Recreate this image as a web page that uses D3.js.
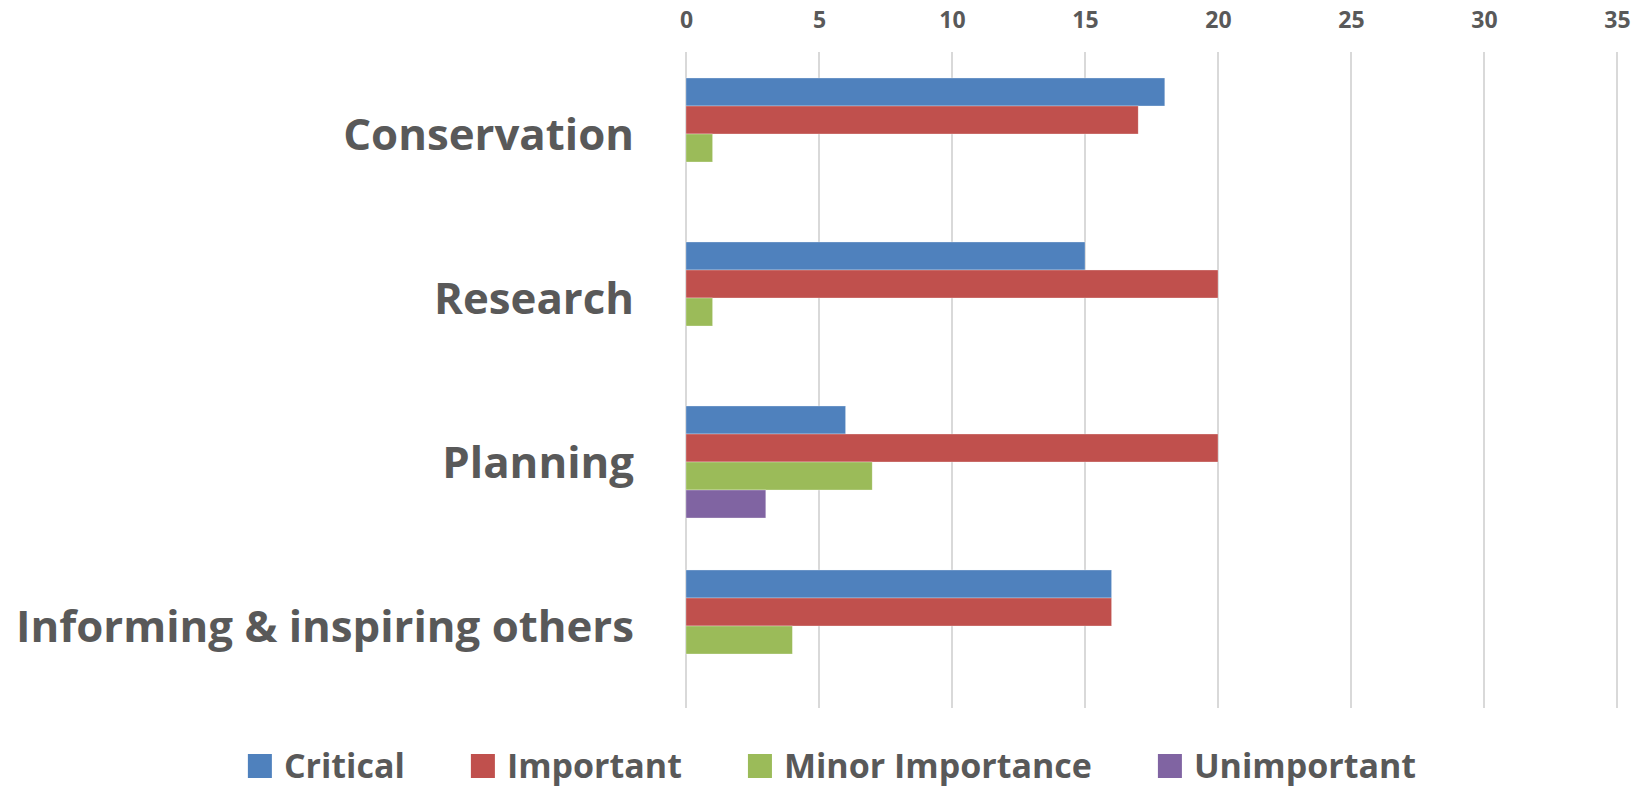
<!DOCTYPE html>
<html>
<head>
<meta charset="utf-8">
<script src="https://cdn.jsdelivr.net/npm/d3@7"></script>
<style>
  body { margin: 0; background: #fff; }
  text { font-family: "Open Sans", "Noto Sans", sans-serif; font-weight: bold; fill: #595959; }
</style>
</head>
<body>
<script>
const categories = ['Conservation', 'Research', 'Planning', 'Informing & inspiring others']
const seriesNames = ['Critical', 'Important', 'Minor Importance', 'Unimportant']
const seriesColors = ['#4f81bd', '#c0504d', '#9bbb59', '#8064a2']
const critical = [18, 15, 6, 16]
const important = [17, 20, 20, 16]
const minor = [1, 1, 7, 4]
const unimportant = [0, 0, 3, 0]
const xTicks = [0, 5, 10, 15, 20, 25, 30, 35]

const W = 1636, H = 788
const values = [critical, important, minor, unimportant]

const svg = d3.select('body')
  .append('svg')
  .attr('width', W)
  .attr('height', H)

const x = d3.scaleLinear()
  .domain([0, 35])
  .range([686, 1617])

const y = d3.scaleBand()
  .domain(categories)
  .range([52, 708])
  .paddingInner(0.317)
  .paddingOuter(0.1585)

const ySub = d3.scaleBand()
  .domain(d3.range(seriesNames.length))
  .range([0, y.bandwidth()])

// gridlines
svg.append('g')
  .selectAll('line')
  .data(xTicks)
  .enter()
  .append('line')
  .attr('x1', d => x(d))
  .attr('x2', d => x(d))
  .attr('y1', 52)
  .attr('y2', 708)
  .attr('stroke', '#d9d9d9')
  .attr('stroke-width', 2)

// top axis labels
const axis = svg.append('g')
  .attr('transform', 'translate(0, 28)')
  .call(d3.axisTop(x).tickValues(xTicks).tickSize(0).tickPadding(0))
axis.select('.domain').remove()
axis.selectAll('text')
  .attr('font-size', 23)
  .attr('fill', '#595959')
  .style('font-family', '"Open Sans", sans-serif')
  .style('font-weight', 'bold')

// bars
const groups = svg.append('g')
  .selectAll('g.cat')
  .data(categories)
  .enter()
  .append('g')
  .attr('class', 'cat')
  .attr('transform', c => `translate(0, ${y(c)})`)

groups.selectAll('rect')
  .data((c, i) => values.map((s, k) => ({k, v: s[i]})).filter(d => d.v > 0))
  .enter()
  .append('rect')
  .attr('x', x(0))
  .attr('y', d => ySub(d.k))
  .attr('width', d => x(d.v) - x(0))
  .attr('height', ySub.bandwidth())
  .attr('fill', d => seriesColors[d.k])
  .attr('stroke', '#ffffff')
  .attr('stroke-opacity', 0.5)
  .attr('stroke-width', 0.6)

// category labels
const labels = svg.append('g')
  .selectAll('text')
  .data(categories)
  .enter()
  .append('text')
  .attr('x', 634)
  .attr('y', c => y(c) + y.bandwidth() / 2)
  .attr('dy', '0.36em')
  .attr('text-anchor', 'end')
  .attr('font-size', 45)
  .text(c => c)

let widest = d3.max(labels.nodes(), n => n.getComputedTextLength())
if (widest > 618) labels.attr('font-size', 45 * 618 / widest)

// legend
const legend = svg.append('g')
const items = legend.selectAll('g')
  .data(seriesNames)
  .enter()
  .append('g')

items.append('rect')
  .attr('width', 24)
  .attr('height', 24)
  .attr('y', -12)
  .attr('fill', (d, i) => seriesColors[i])

const ltext = items.append('text')
  .attr('x', 36)
  .attr('dy', '0.36em')
  .attr('font-size', 34)
  .text(d => d)

let lw = ltext.nodes().map(n => n.getComputedTextLength())
const gap = 66
const total = d3.sum(lw) + lw.length * 36 + (lw.length - 1) * gap
let pos = 832 - total / 2
items.attr('transform', (d, i) => {
  const p = pos
  pos += 36 + lw[i] + gap
  return `translate(${p}, 766)`
})
</script>
</body>
</html>
